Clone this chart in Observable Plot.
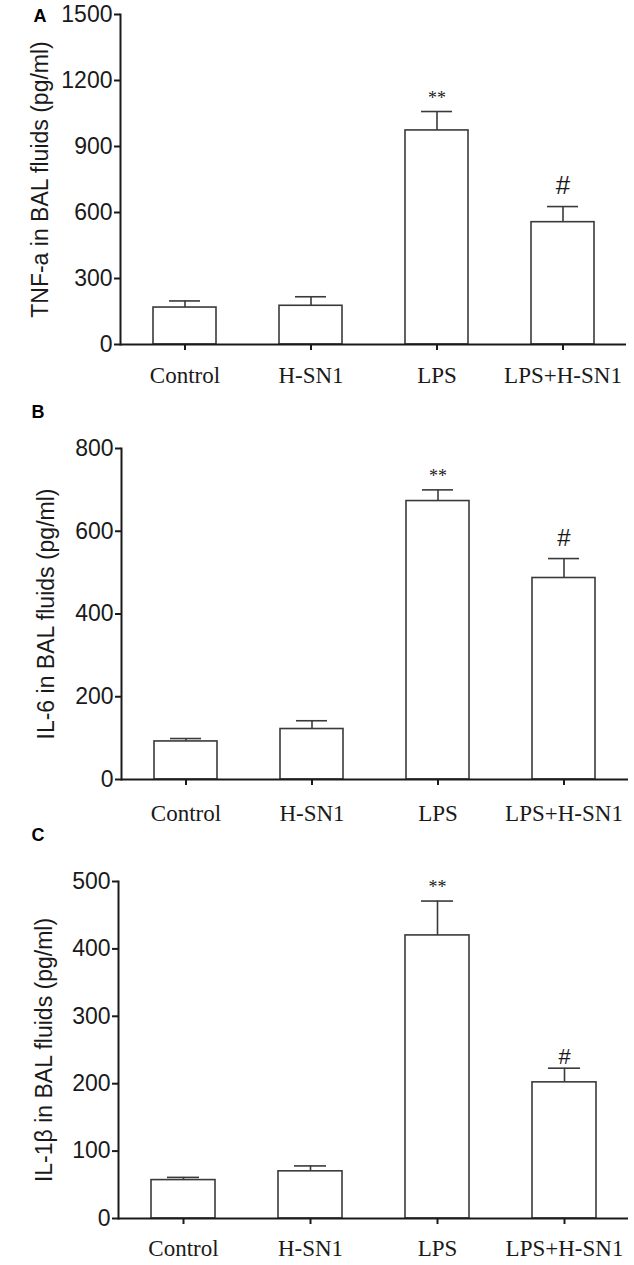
<!DOCTYPE html>
<html><head><meta charset="utf-8">
<script src="https://cdn.jsdelivr.net/npm/d3@7"></script>
<script src="https://cdn.jsdelivr.net/npm/@observablehq/plot@0.6"></script>
<style>
body{margin:0;background:#fff}
#chart{position:relative;width:634px;height:1265px;background:#fff}
#chart svg{position:absolute;left:0;overflow:visible}
</style>
</head><body><div id="chart"></div>
<script>
// ---- data ----
const groups = ["Control", "H-SN1", "LPS", "LPS+H-SN1"];
const sigMarks = ["", "", "**", "#"];

const tnfMean = [168, 176, 973, 556];
const tnfErr  = [30, 41, 86, 71];
const tnfTicks = [0, 300, 600, 900, 1200, 1500];

const il6Mean = [92, 122, 673, 487];
const il6Err  = [7, 20, 27, 47];
const il6Ticks = [0, 200, 400, 600, 800];

const il1bMean = [57, 70, 420, 202];
const il1bErr  = [4, 8, 51, 21];
const il1bTicks = [0, 100, 200, 300, 400, 500];

const panelLetters = ["A", "B", "C"];
const yLabels = ["TNF-a in BAL fluids (pg/ml)", "IL-6 in BAL fluids (pg/ml)", "IL-1\u03B2 in BAL fluids (pg/ml)"];

// ---- layout (styles only) ----
const panels = [
  {mean: tnfMean, err: tnfErr, ticks: tnfTicks, letter: panelLetters[0], ylabel: yLabels[0],
   top: 0, height: 395, mt: 14, mb: 51, ml: 120, mr: 8, tickPad: 16, labelDx: -80, letterDx: -87, letterDy: 7,
   starDy: -8, hashDy: -13, hashSize: 26},
  {mean: il6Mean, err: il6Err, ticks: il6Ticks, letter: panelLetters[1], ylabel: yLabels[1],
   top: 395, height: 435, mt: 53, mb: 51, ml: 121, mr: 6, tickPad: 19, labelDx: -75, letterDx: -90, letterDy: -31,
   starDy: -8, hashDy: -13, hashSize: 24},
  {mean: il1bMean, err: il1bErr, ticks: il1bTicks, letter: panelLetters[2], ylabel: yLabels[2],
   top: 830, height: 435, mt: 51, mb: 47, ml: 118, mr: 6, tickPad: 15, labelDx: -74, letterDx: -87, letterDy: -41,
   starDy: -8, hashDy: -4, hashSize: 22}
];

const chart = document.getElementById("chart");
const ink = "#1a1a1a";
const barInk = "#3a3a3a";

panels.forEach(p => {
  const rows = groups.map((g, i) => ({group: g, mean: p.mean[i], hi: p.mean[i] + p.err[i], sig: sigMarks[i]}));
  const ymax = p.ticks[p.ticks.length - 1];
  const svg = Plot.plot({
    width: 634,
    height: p.height,
    marginTop: p.mt,
    marginBottom: p.mb,
    marginLeft: p.ml,
    marginRight: p.mr,
    style: {fontFamily: "'Liberation Sans', Arial, sans-serif", color: ink, background: "transparent", overflow: "visible"},
    x: {domain: groups, paddingInner: 0.5, paddingOuter: 0.25, label: null},
    y: {domain: [0, ymax], label: null},
    marks: [
      Plot.barY(rows, {x: "group", y: "mean", fill: "white", stroke: barInk, strokeWidth: 1.6}),
      Plot.ruleX(rows, {x: "group", y1: "mean", y2: "hi", stroke: barInk, strokeWidth: 1.6}),
      Plot.tickY(rows, {x: "group", y: "hi", stroke: barInk, strokeWidth: 1.6, insetLeft: 16, insetRight: 16}),
      Plot.text(rows.filter(d => d.sig === "**"), {x: "group", y: "hi", text: "sig", lineAnchor: "bottom", dy: p.starDy,
        fontFamily: "'Liberation Serif', 'Times New Roman', serif", fontSize: 18, fill: ink}),
      Plot.text(rows.filter(d => d.sig === "#"), {x: "group", y: "hi", text: "sig", lineAnchor: "bottom", dy: p.hashDy,
        fontFamily: "'Liberation Sans', Arial, sans-serif", fontSize: p.hashSize, fill: ink}),
      Plot.frame({anchor: "left", stroke: ink, strokeWidth: 2}),
      Plot.ruleY([0], {stroke: ink, strokeWidth: 2}),
      Plot.axisY({ticks: p.ticks, tickSize: 6, tickPadding: 2, fontSize: 23, tickFormat: d => String(d), label: null, strokeWidth: 2, stroke: ink}),
      Plot.axisX({tickSize: 6, tickPadding: p.tickPad, fontSize: 23, fontFamily: "'Liberation Serif', 'Times New Roman', serif", label: null, strokeWidth: 2, stroke: ink}),
      Plot.text([p.ylabel], {frameAnchor: "left", text: d => d, textAnchor: "middle", rotate: -90, dx: p.labelDx, fontSize: 23, fill: ink}),
      Plot.text([p.letter], {frameAnchor: "top-left", text: d => d, textAnchor: "start", lineAnchor: "bottom", dx: p.letterDx, dy: p.letterDy,
        fontSize: 18, fontWeight: "bold", fill: "#000"})
    ]
  });
  svg.style.top = p.top + "px";
  chart.appendChild(svg);
});
</script>
</body></html>
